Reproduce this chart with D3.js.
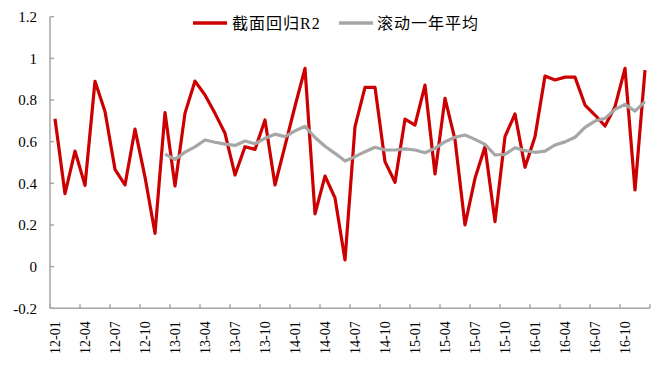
<!DOCTYPE html>
<html>
<head>
<meta charset="utf-8">
<script src="https://cdn.jsdelivr.net/npm/d3@7"></script>
<style>
  html, body { margin: 0; padding: 0; background: #fff; }
  svg { display: block; }
  text { font-family: "Liberation Serif", "Noto Sans CJK SC", serif; fill: #000; }
</style>
</head>
<body>
<svg id="chart" width="660" height="366"></svg>
<script>
// ---- Data ----
const years = ["12", "13", "14", "15", "16"];
const monthsOfYear = ["01","02","03","04","05","06","07","08","09","10","11","12"];
const months = years.flatMap(yy => monthsOfYear.map(m => yy + "-" + m));

const seriesNames = ["截面回归R2", "滚动一年平均"];

// 截面回归R2 (monthly, 12-01 .. 16-12)
const r2Values = [
  0.71, 0.35, 0.555, 0.39, 0.89, 0.745, 0.467, 0.392, 0.66, 0.43, 0.16, 0.74,
  0.387, 0.737, 0.891, 0.824, 0.736, 0.64, 0.44, 0.576, 0.563, 0.704, 0.392, 0.58,
  0.77, 0.952, 0.253, 0.435, 0.33, 0.032, 0.672, 0.861, 0.861, 0.504, 0.405, 0.708,
  0.68, 0.872, 0.445, 0.808, 0.61, 0.2, 0.424, 0.576, 0.216, 0.624, 0.733, 0.477,
  0.624, 0.915, 0.896, 0.91, 0.91, 0.776, 0.728, 0.675, 0.768, 0.952, 0.368, 0.944
];

// 滚动一年平均 (starts at 12-12)
const rollingStart = "12-12";
const rollingValues = [
  0.54,
  0.515, 0.55, 0.575, 0.608, 0.597, 0.588, 0.582, 0.603, 0.59, 0.616, 0.636, 0.624,
  0.652, 0.674, 0.62, 0.578, 0.544, 0.507, 0.528, 0.552, 0.573, 0.56, 0.56, 0.565,
  0.56, 0.547, 0.568, 0.6, 0.621, 0.632, 0.611, 0.587, 0.536, 0.539, 0.571, 0.557,
  0.549, 0.555, 0.584, 0.599, 0.621, 0.669, 0.699, 0.712, 0.755, 0.779, 0.747, 0.792
];

const yTicks = [-0.2, 0, 0.2, 0.4, 0.6, 0.8, 1, 1.2];
const xTickLabels = months.filter((m, i) => i % 3 === 0);

// ---- Chart ----
(function () {
const svg = d3.select("#chart");
const pLeft = 50, pRight = 650, pTop = 16.7, pBottom = 308.3;

const x = d3.scaleBand().domain(months).range([pLeft, pRight]).padding(0);
const y = d3.scaleLinear().domain([-0.2, 1.2]).range([pBottom, pTop]);
const cx = m => x(m) + x.bandwidth() / 2;

const axisColor = "#A6A6A6";

// Y axis
const yAxis = svg.append("g").attr("transform", `translate(${pLeft},0)`)
  .call(d3.axisLeft(y).tickValues(yTicks).tickSize(0).tickPadding(13)
    .tickFormat(d => String(+d.toFixed(1))));
yAxis.select(".domain").remove();
yAxis.selectAll("text").style("font-size", "15px")
  .style("font-family", "'Liberation Serif', serif").attr("fill", "#000");
svg.append("g").selectAll("line").data(yTicks).join("line")
  .attr("x1", pLeft).attr("x2", pLeft + 4)
  .attr("y1", d => y(d)).attr("y2", d => y(d))
  .attr("stroke", axisColor).attr("stroke-width", 1.5);
svg.append("line").attr("x1", pLeft).attr("x2", pLeft)
  .attr("y1", y(1.2)).attr("y2", y(-0.2))
  .attr("stroke", axisColor).attr("stroke-width", 1.5);

// X axis
const xAxis = svg.append("g").attr("transform", `translate(0,${y(-0.2)})`)
  .call(d3.axisBottom(x).tickValues(xTickLabels).tickSize(0).tickPadding(0));
xAxis.select(".domain").remove();
xAxis.selectAll("text")
  .style("font-size", "14px")
  .style("font-family", "'Liberation Serif', serif")
  .attr("fill", "#000")
  .attr("text-anchor", "end")
  .attr("dy", "0.35em")
  .attr("transform", "translate(0,13) rotate(-90)")
  .attr("x", 0).attr("y", 0);
const xTickPos = months.filter((m, i) => i % 3 === 0).map(m => x(m)).concat([pRight]);
svg.append("g").selectAll("line").data(xTickPos).join("line")
  .attr("x1", d => d).attr("x2", d => d)
  .attr("y1", y(-0.2)).attr("y2", y(-0.2) - 4)
  .attr("stroke", axisColor).attr("stroke-width", 1.5);
svg.append("line").attr("x1", pLeft).attr("x2", pRight)
  .attr("y1", y(-0.2)).attr("y2", y(-0.2))
  .attr("stroke", axisColor).attr("stroke-width", 1.5);

// Lines
const line = d3.line().x(d => cx(d.m)).y(d => y(d.v));
const r2Data = months.map((m, i) => ({ m, v: r2Values[i] }));
const startIdx = months.indexOf(rollingStart);
const rollData = rollingValues.map((v, i) => ({ m: months[startIdx + i], v }));

const red = "#CC0000", gray = "#A6A6A6";
svg.append("path").datum(r2Data).attr("d", line)
  .attr("fill", "none").attr("stroke", red).attr("stroke-width", 3.2)
  .attr("stroke-linejoin", "round");
svg.append("path").datum(rollData).attr("d", line)
  .attr("fill", "none").attr("stroke", gray).attr("stroke-width", 3.2)
  .attr("stroke-linejoin", "round");

// Legend
const legend = [
  { name: seriesNames[0], color: red, x1: 193, x2: 227, tx: 232 },
  { name: seriesNames[1], color: gray, x1: 339, x2: 373, tx: 377 }
];
const lg = svg.append("g");
legend.forEach(d => {
  lg.append("line").attr("x1", d.x1).attr("x2", d.x2).attr("y1", 23).attr("y2", 23)
    .attr("stroke", d.color).attr("stroke-width", 3.5);
  lg.append("text").attr("x", d.tx).attr("y", 23).attr("dy", "0.35em")
    .style("font-size", "16px").style("letter-spacing", "1px").text(d.name);
});
})();
</script>
</body>
</html>
